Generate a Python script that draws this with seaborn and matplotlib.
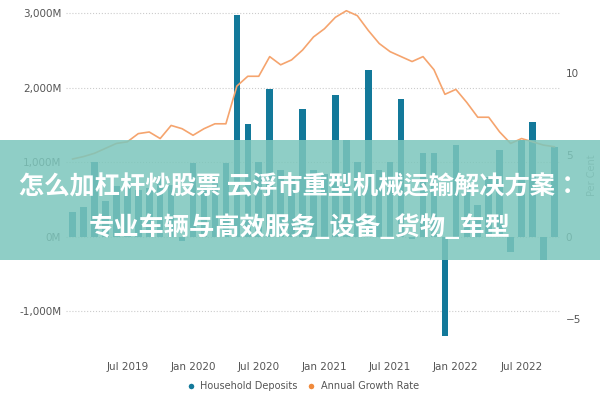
import matplotlib
matplotlib.use("Agg")
import matplotlib.pyplot as plt
import matplotlib.patches as patches
from matplotlib import font_manager
from matplotlib.lines import Line2D
import seaborn as sns
import pandas as pd

# monthly data, Feb 2019 .. Oct 2022
months = pd.date_range("2019-02-01", periods=45, freq="MS")
deposits = [330, 400, 1000, 475, 680, 720, 630, 650, 800, 700,
            -50, 990, 700, 800, 990, 2970, 1520, 1000, 1980, 900,
            800, 1720, 900, 850, 1900, 1300, 1000, 2240, 900, 1000,
            1850, -30, 1120, 1120, -1330, 1230, 700, 430, 800, 1160,
            -200, 1300, 1540, -310, 1210]
growth = [4.75, 4.9, 5.1, 5.4, 5.7, 5.8, 6.3, 6.4, 6.0, 6.8,
          6.6, 6.2, 6.6, 6.9, 6.9, 9.2, 9.8, 9.8, 11.0, 10.5,
          10.8, 11.4, 12.2, 12.7, 13.4, 13.8, 13.5, 12.6, 11.8, 11.3,
          11.0, 10.7, 11.0, 10.2, 8.7, 9.0, 8.2, 7.3, 7.3, 6.4,
          5.7, 6.0, 5.8, 5.6, 5.5]
tick_labels = ["Jul 2019", "Jan 2020", "Jul 2020", "Jan 2021", "Jul 2021", "Jan 2022", "Jul 2022"]
title_lines = ["怎么加杠杆炒股票 云浮市重型机械运输解决方案：", "专业车辆与高效服务_设备_货物_车型"]

bar_color = "#13799a"
line_color = "#f5a46e"
grey = "#555555"

# find a CJK font file (bold if possible)
cjk_font = None
files = font_manager.findSystemFonts()
cands = [f for f in files if "NotoSansCJK" in f.replace(" ", "") or "Noto Sans CJK" in f]
bold = [f for f in cands if "Bold" in f]
if bold:
    cjk_font = font_manager.FontProperties(fname=bold[0], size=18.2)
elif cands:
    cjk_font = font_manager.FontProperties(fname=cands[0], size=18.2, weight="bold")
else:
    cjk_font = font_manager.FontProperties(family=["Noto Sans CJK SC", "Noto Sans CJK JP"],
                                           size=18.2, weight="bold")

df = pd.DataFrame({"idx": range(len(months)), "deposits": deposits, "growth": growth})

fig = plt.figure(figsize=(6, 4), dpi=100)
ax = fig.add_axes([0.11, 0.1375, 0.825, 0.85])
sns.barplot(data=df, x="idx", y="deposits", native_scale=True, color=bar_color,
            width=0.6, saturation=1, ax=ax)
ax.set_xlim(-0.6, 44.6)
ax.set_ylim(-1450, 3110)
ax.set_yticks([-1000, 0, 1000, 2000, 3000])
ax.set_yticklabels(["-1,000M", "0M", "1,000M", "2,000M", "3,000M"])
tick_pos = [i for i, m in enumerate(months) if m.month in (1, 7)]
ax.set_xticks(tick_pos)
ax.set_xticklabels(tick_labels)
ax.grid(axis="y", color="#cccccc", linestyle=":", linewidth=0.8)
ax.set_axisbelow(True)
for s in ax.spines.values():
    s.set_visible(False)
ax.tick_params(length=0, labelsize=7.5, colors=grey)
ax.tick_params(axis="x", pad=12)
ax.set_xlabel("")
ax.set_ylabel("")

ax2 = ax.twinx()
sns.lineplot(data=df, x="idx", y="growth", color=line_color, linewidth=1.2, ax=ax2)
ax2.set_ylim(-6.6, 14.15)
ax2.set_yticks([-5, 0, 5, 10])
ax2.tick_params(length=0, labelsize=7.5, colors=grey)
for s in ax2.spines.values():
    s.set_visible(False)
ax2.set_ylabel("Per Cent", fontsize=7, color="#999999")
ax2.set_xlabel("")

handles = [Line2D([], [], marker="o", color="w", markerfacecolor=bar_color, markersize=5),
           Line2D([], [], marker="o", color="w", markerfacecolor="#f08a3c", markersize=5)]
fig.legend(handles, ["Household Deposits", "Annual Growth Rate"], loc="center",
           bbox_to_anchor=(0.5, 0.035), ncol=2, frameon=False, fontsize=7,
           handletextpad=0.0, columnspacing=0.4, labelcolor=grey)

# overlay banner
fig.patches.append(patches.Rectangle((0, 1 - 260 / 400), 1, 120 / 400, transform=fig.transFigure,
                                     facecolor="#7cc6bc", alpha=0.85, zorder=5))
fig.text(0.5, 1 - 187 / 400, title_lines[0], ha="center", va="center", color="white",
         fontproperties=cjk_font, zorder=6)
fig.text(0.5, 1 - 228 / 400, title_lines[1], ha="center", va="center", color="white",
         fontproperties=cjk_font, zorder=6)

plt.savefig("out.png", dpi=100)
